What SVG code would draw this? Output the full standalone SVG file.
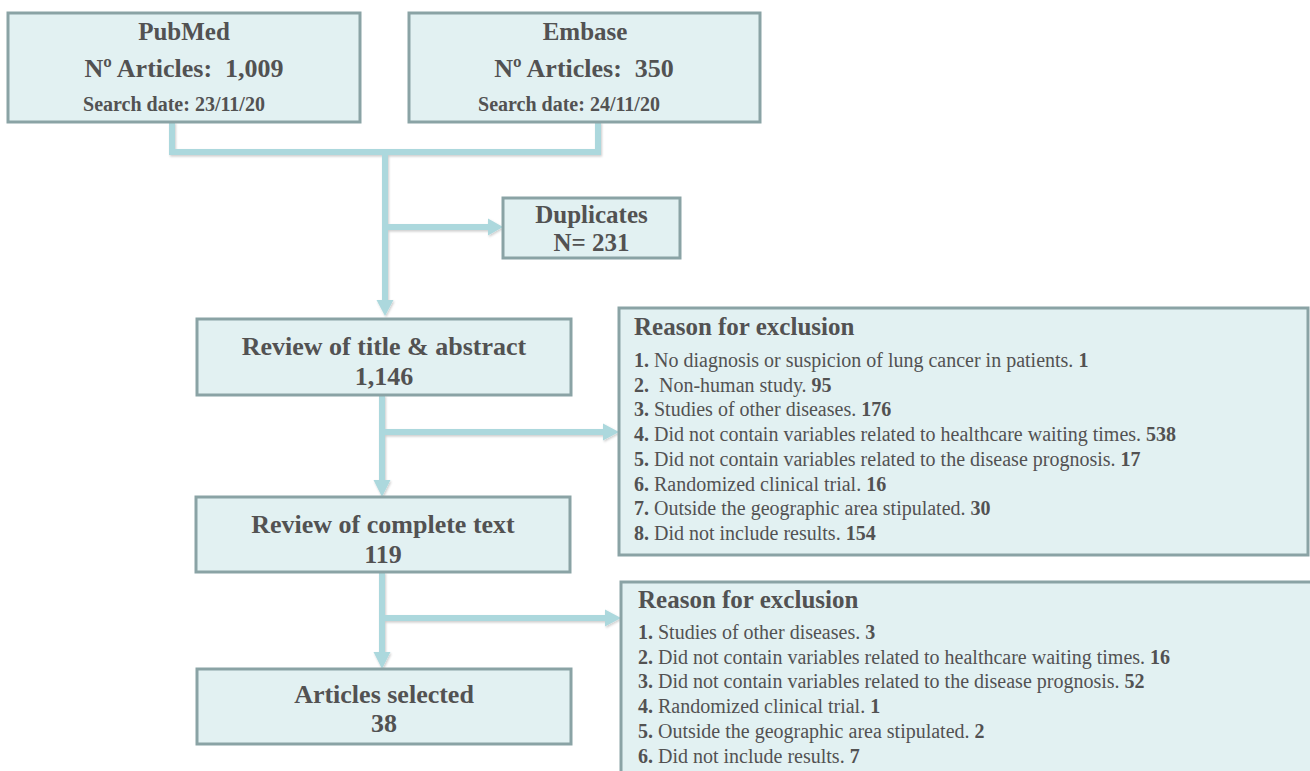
<svg xmlns="http://www.w3.org/2000/svg" width="1310" height="771" viewBox="0 0 1310 771">
<defs>
<style>
.box{fill:#e2f1f2;stroke:#8aa3a5;stroke-width:3}
.t{font-family:"Liberation Serif","Times New Roman",serif;fill:#525252;font-weight:bold;text-anchor:middle;white-space:pre}
.h{font-family:"Liberation Serif","Times New Roman",serif;fill:#525252;font-weight:bold;font-size:25px}
.i{font-family:"Liberation Serif","Times New Roman",serif;fill:#525252;font-size:20px;white-space:pre}
.i tspan.b{font-weight:bold}
.ln{fill:none;stroke:#acd8dd;stroke-width:6;stroke-linejoin:miter}
.ah{fill:#acd8dd}
</style>
<filter id="sh" x="-10%" y="-10%" width="130%" height="130%">
<feDropShadow dx="1" dy="1.5" stdDeviation="1" flood-color="#000" flood-opacity="0.2"/>
</filter>
</defs>
<rect width="1310" height="771" fill="#fff"/>
<g id="connectors" filter="url(#sh)">
<path class="ln" d="M172,122 V152 H598 V122"/>
<path class="ln" d="M385,152 V301"/>
<polygon class="ah" points="376.5,300 393.5,300 385,316"/>
<path class="ln" d="M385,227 H489"/>
<polygon class="ah" points="488,218.5 488,235.5 503,227"/>
<path class="ln" d="M382,395 V481"/>
<polygon class="ah" points="373.5,480 390.5,480 382,497"/>
<path class="ln" d="M382,432 H604"/>
<polygon class="ah" points="603,423.5 603,440.5 619,432"/>
<path class="ln" d="M382,572 V653"/>
<polygon class="ah" points="373.5,652 390.5,652 382,669"/>
<path class="ln" d="M382,618 H606"/>
<polygon class="ah" points="605,609.5 605,626.5 621,618"/>
</g>
<g id="pubmed">
<rect class="box" x="8" y="13" width="352" height="109"/>
<text class="t" x="184" y="40" font-size="25">PubMed</text>
<text class="t" x="184" y="77" font-size="26">Nº Articles:  1,009</text>
<text class="t" x="174" y="111" font-size="20">Search date: 23/11/20</text>
</g>
<g id="embase">
<rect class="box" x="409" y="13" width="351" height="109"/>
<text class="t" x="585" y="40" font-size="25">Embase</text>
<text class="t" x="584" y="77" font-size="26">Nº Articles:  350</text>
<text class="t" x="569" y="111" font-size="20">Search date: 24/11/20</text>
</g>
<g id="duplicates">
<rect class="box" x="503" y="198" width="177" height="60"/>
<text class="t" x="591.5" y="223" font-size="25">Duplicates</text>
<text class="t" x="591.5" y="251" font-size="25">N= 231</text>
</g>
<g id="title-abstract">
<rect class="box" x="197" y="319" width="374" height="76"/>
<text class="t" x="384" y="355" font-size="26">Review of title &amp; abstract</text>
<text class="t" x="384" y="385" font-size="26">1,146</text>
</g>
<g id="exclusion1">
<rect class="box" x="619" y="308" width="689" height="247"/>
<text class="h" x="634" y="335">Reason for exclusion</text>
<text class="i" x="634" y="367"><tspan class="b">1.</tspan> No diagnosis or suspicion of lung cancer in patients. <tspan class="b">1</tspan></text>
<text class="i" x="634" y="392"><tspan class="b">2.</tspan>  Non-human study. <tspan class="b">95</tspan></text>
<text class="i" x="634" y="416"><tspan class="b">3.</tspan> Studies of other diseases. <tspan class="b">176</tspan></text>
<text class="i" x="634" y="441"><tspan class="b">4.</tspan> Did not contain variables related to healthcare waiting times. <tspan class="b">538</tspan></text>
<text class="i" x="634" y="466"><tspan class="b">5.</tspan> Did not contain variables related to the disease prognosis. <tspan class="b">17</tspan></text>
<text class="i" x="634" y="491"><tspan class="b">6.</tspan> Randomized clinical trial. <tspan class="b">16</tspan></text>
<text class="i" x="634" y="515"><tspan class="b">7.</tspan> Outside the geographic area stipulated. <tspan class="b">30</tspan></text>
<text class="i" x="634" y="540"><tspan class="b">8.</tspan> Did not include results. <tspan class="b">154</tspan></text>
</g>
<g id="complete-text">
<rect class="box" x="196" y="497" width="374" height="75"/>
<text class="t" x="383" y="533" font-size="26">Review of complete text</text>
<text class="t" x="383" y="563" font-size="26">119</text>
</g>
<g id="exclusion2">
<rect class="box" x="621" y="582" width="700" height="200"/>
<text class="h" x="638" y="608">Reason for exclusion</text>
<text class="i" x="638" y="639"><tspan class="b">1.</tspan> Studies of other diseases. <tspan class="b">3</tspan></text>
<text class="i" x="638" y="664"><tspan class="b">2.</tspan> Did not contain variables related to healthcare waiting times. <tspan class="b">16</tspan></text>
<text class="i" x="638" y="688"><tspan class="b">3.</tspan> Did not contain variables related to the disease prognosis. <tspan class="b">52</tspan></text>
<text class="i" x="638" y="713"><tspan class="b">4.</tspan> Randomized clinical trial. <tspan class="b">1</tspan></text>
<text class="i" x="638" y="738"><tspan class="b">5.</tspan> Outside the geographic area stipulated. <tspan class="b">2</tspan></text>
<text class="i" x="638" y="763"><tspan class="b">6.</tspan> Did not include results. <tspan class="b">7</tspan></text>
</g>
<g id="articles-selected">
<rect class="box" x="197" y="669" width="374" height="75"/>
<text class="t" x="384" y="703" font-size="26">Articles selected</text>
<text class="t" x="384" y="732" font-size="26">38</text>
</g>
</svg>
